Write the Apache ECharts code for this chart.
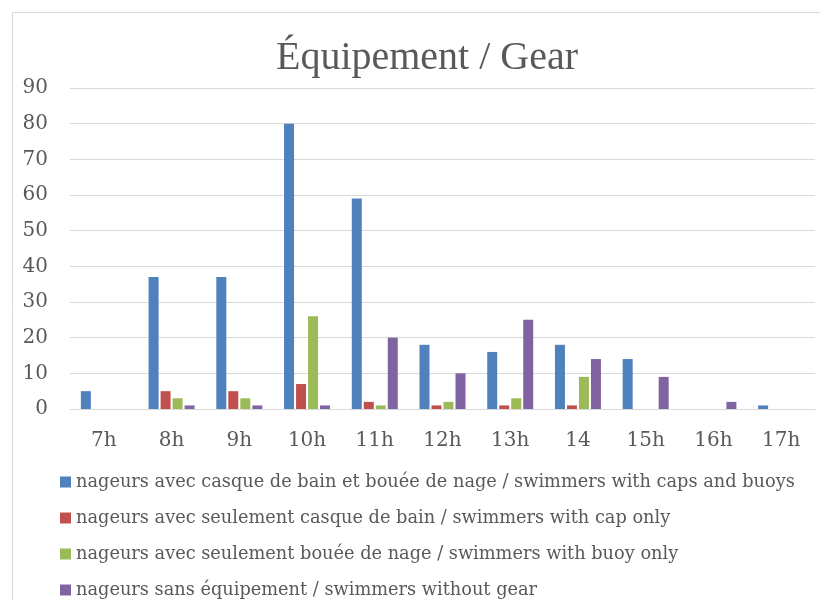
<!DOCTYPE html>
<html>
<head>
<meta charset="utf-8">
<script src="https://cdn.jsdelivr.net/npm/echarts@6/dist/echarts.min.js"></script>
<style>
html, body { margin: 0; padding: 0; background: #fff; }
#chart { width: 820px; height: 600px; }
</style>
</head>
<body>
<div id="chart"></div>
<script>
var hours = ['7h', '8h', '9h', '10h', '11h', '12h', '13h', '14', '15h', '16h', '17h'];
var capsAndBuoys = [5, 37, 37, 80, 59, 18, 16, 18, 14, 0, 1];
var capOnly = [0, 5, 5, 7, 2, 1, 1, 1, 0, 0, 0];
var buoyOnly = [0, 3, 3, 26, 1, 2, 3, 9, 0, 0, 0];
var noGear = [0, 1, 1, 1, 20, 10, 25, 14, 9, 2, 0];
var seriesNames = [
    'nageurs avec casque de bain et bouée de nage / swimmers with caps and buoys',
    'nageurs avec seulement casque de bain / swimmers with cap only',
    'nageurs avec seulement bouée de nage / swimmers with buoy only',
    'nageurs sans équipement / swimmers without gear'
];
var colors = ['#4f81bd', '#c0504d', '#9bbb59', '#8064a2'];

var titleFont = 'Liberation Serif';
var font = 'DejaVu Serif';
var textColor = '#595959';

var chartDom = document.getElementById('chart');
var myChart = echarts.init(chartDom);

function bar(i, data) {
    return {
        name: seriesNames[i],
        type: 'bar',
        data: data,
        barWidth: 10,
        barGap: '20%',
        itemStyle: { color: colors[i] }
    };
}

var option = {
    animation: false,
    backgroundColor: '#fff',
    color: colors,
    graphic: [{
        type: 'rect',
        shape: { x: 12.5, y: 12.5, width: 900, height: 700 },
        style: { fill: 'none', stroke: '#d9d9d9', lineWidth: 1 },
        silent: true
    }],
    title: {
        text: 'Équipement / Gear',
        left: 422,
        textAlign: 'center',
        top: 33,
        textStyle: { fontFamily: titleFont, fontSize: 40, fontWeight: 'normal', color: textColor }
    },
    legend: {
        orient: 'vertical',
        left: 55,
        top: 468,
        height: 200,
        itemWidth: 11,
        itemHeight: 11,
        itemGap: 18,
        icon: 'rect',
        textStyle: { fontFamily: font, fontSize: 17.75, color: textColor },
        data: seriesNames
    },
    grid: { left: 70, right: 5, top: 88, bottom: 191, containLabel: false },
    xAxis: {
        type: 'category',
        data: hours,
        axisLine: { lineStyle: { color: '#d9d9d9', width: 1 } },
        axisTick: { show: false },
        axisLabel: { fontFamily: font, fontSize: 20, color: textColor, margin: 22 }
    },
    yAxis: {
        type: 'value',
        min: 0,
        max: 90,
        interval: 10,
        axisLine: { show: false },
        axisTick: { show: false },
        splitLine: { lineStyle: { color: '#d9d9d9', width: 1 } },
        axisLabel: { fontFamily: font, fontSize: 20, color: textColor, margin: 22 }
    },
    series: [
        bar(0, capsAndBuoys),
        bar(1, capOnly),
        bar(2, buoyOnly),
        bar(3, noGear)
    ]
};

myChart.setOption(option);
</script>
</body>
</html>
